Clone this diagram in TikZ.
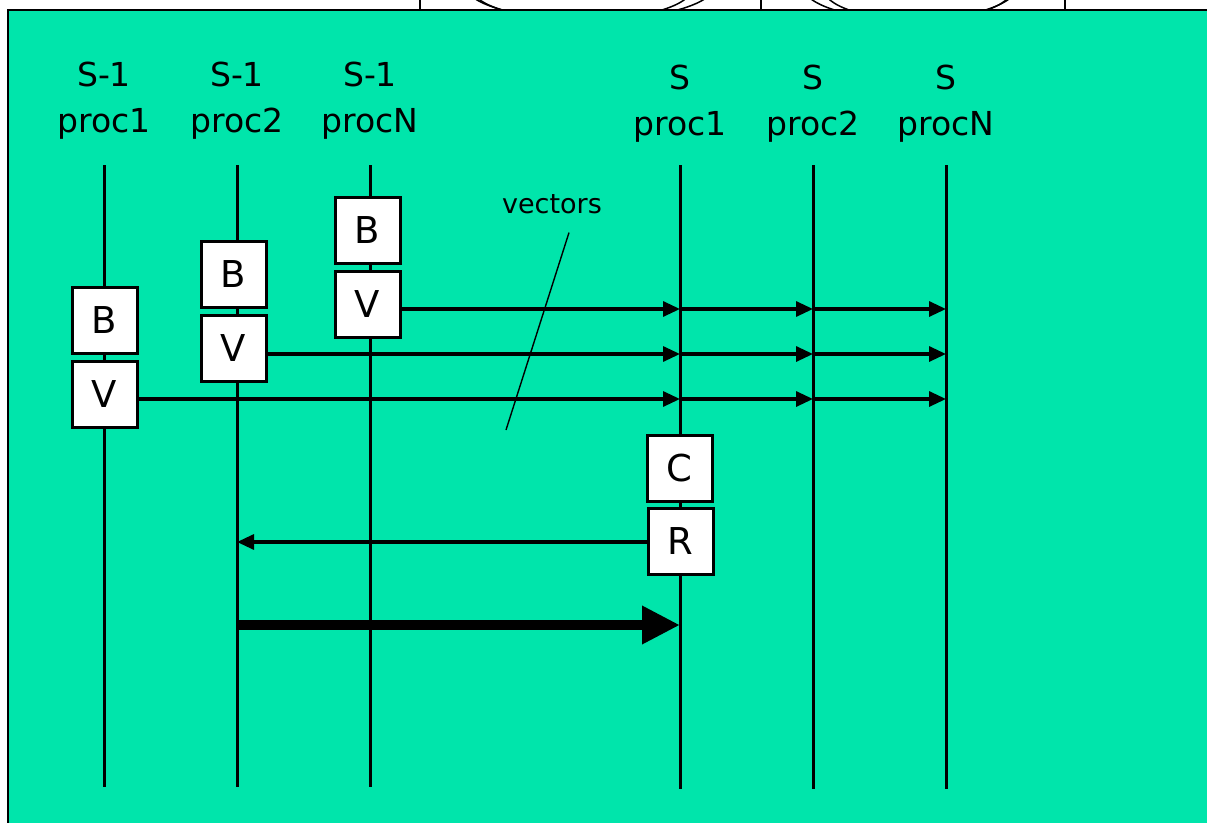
\documentclass[tikz,border=0pt]{standalone}
\usepackage{fontspec}
\setmainfont{DejaVu Sans}
\usetikzlibrary{arrows.meta}

\definecolor{SlideColor}{RGB}{0,229,171}

\begin{document}
\begin{tikzpicture}[x=1pt, y=-1pt,
		header/.style={align=center, font=\fontsize{33}{46}\selectfont, inner sep=0pt, anchor=base},
		phase/.style={draw, fill=white, line width=3pt, minimum width=65pt, minimum height=66pt, inner sep=0pt, font=\fontsize{37}{40}\selectfont},
		lifeline/.style={line width=3pt},
		message/.style={line width=3.2pt, -{Triangle[length=17pt, width=15pt]}},
		bulk/.style={line width=10pt, -{Triangle[length=38pt, width=36pt]}}
	]
	\useasboundingbox (0, 0) rectangle (1207, 822);

	% Cut-off shapes of the slide above
	\draw[line width=1.5pt] (420, -5) -- (420, 14);
	\draw[line width=1.5pt] (761, -5) -- (761, 14);
	\draw[line width=1.5pt] (1065, -5) -- (1065, 14);
	\draw[line width=1.5pt] (590, -15) ellipse [x radius=125pt, y radius=35pt];
	\draw[line width=1.5pt] (582, -12) ellipse [x radius=110pt, y radius=32pt];
	\draw[line width=1.5pt] (910, -15) ellipse [x radius=108pt, y radius=35pt];
	\draw[line width=1.5pt] (918, -12) ellipse [x radius=95pt, y radius=32pt];

	% Slide
	\filldraw[fill=SlideColor, line width=1.8pt] (8, 10) rectangle (1215, 830);

	% Headers
	\node[header] (h1) at (104, 132) {S-1\\proc1};
	\node[header] (h2) at (237, 132) {S-1\\proc2};
	\node[header] (hN) at (370, 132) {S-1\\procN};
	\node[header] (k1) at (680, 135) {S\\proc1};
	\node[header] (k2) at (813, 135) {S\\proc2};
	\node[header] (kN) at (946, 135) {S\\procN};

	% Lifelines
	\foreach \name/\x/\y in {h1/104/787, h2/237/787, hN/370/787, k1/680/789, k2/813/789, kN/946/789} {
		\coordinate (\name top) at (\x, 165);
		\coordinate (\name bottom) at (\x, \y);
		\draw[lifeline] (\name top) -- (\name bottom);
	}

	% Boxes
	\node[phase] (b1) at (104.5, 320) {B};
	\node[phase] (v1) at (104.5, 394) {V};
	\node[phase] (b2) at (233.5, 274.5) {B};
	\node[phase] (v2) at (233.5, 348) {V};
	\node[phase] (bN) at (367.5, 230.5) {B};
	\node[phase] (vN) at (367.5, 304) {V};
	\node[phase] (c) at (679.5, 468) {C};
	\node[phase] (r) at (680.5, 541.5) {R};

	% Arrows
	\foreach \src/\y in {vN/309, v2/354, v1/399} {
		\coordinate (\src k1) at (680, \y);
		\coordinate (\src k2) at (813, \y);
		\coordinate (\src kN) at (946, \y);
		\draw[message] (\src.east |- \src k1) -- (\src k1);
		\draw[message] (\src k1) -- (\src k2);
		\draw[message] (\src k2) -- (\src kN);
	}
	\coordinate (back) at (237, 542);
	\draw[message] (r.west |- back) -- (back);
	\coordinate (bulkstart) at (237, 625);
	\coordinate (bulkend) at (680, 625);
	\draw[bulk] (bulkstart) -- (bulkend);

	% Label
	\node[font=\fontsize{27}{32}\selectfont, inner sep=0pt, anchor=base] (vec) at (552, 213) {vectors};
	\coordinate (vecend) at (506, 430);
	\draw[line width=1.4pt] ([xshift=17pt, yshift=-19pt]vec.south) -- (vecend);

\end{tikzpicture}
\end{document}
